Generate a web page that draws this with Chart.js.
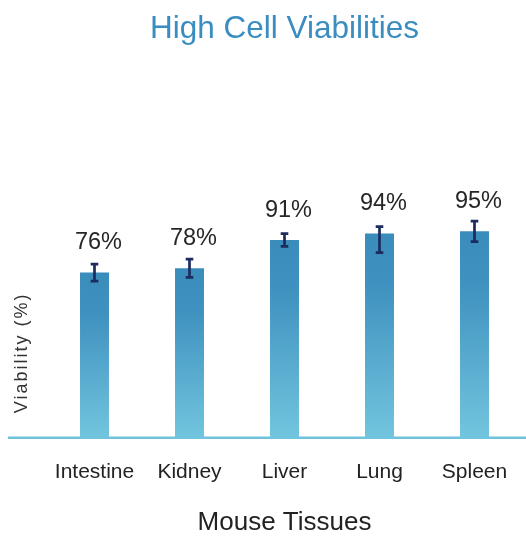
<!DOCTYPE html>
<html>
<head>
<meta charset="utf-8">
<script src="https://cdn.jsdelivr.net/npm/chart.js@4"></script>
<style>
html,body{margin:0;padding:0;background:#fff;}
#wrap{width:526px;height:537px;}
</style>
</head>
<body>
<div id="wrap"><canvas id="c" width="526" height="537"></canvas></div>
<script>
const categories = ['Intestine', 'Kidney', 'Liver', 'Lung', 'Spleen'];
const viability = [76, 78, 91, 94, 95];
const errorPlus = [3.9, 4.2, 2.9, 3.2, 4.7];
const errorMinus = [3.9, 4.2, 2.9, 8.8, 4.7];
const valueLabels = ['76%', '78%', '91%', '94%', '95%'];

const FONT = '"Liberation Sans", Arial, Helvetica, sans-serif';

const extras = {
  id: 'extras',
  beforeDatasetsDraw(chart) {
    const ctx = chart.ctx;
    const y0 = chart.scales.y.getPixelForValue(0);
    ctx.save();
    ctx.strokeStyle = '#70c3dc';
    ctx.lineWidth = 2.6;
    ctx.beginPath();
    ctx.moveTo(8, y0);
    ctx.lineTo(chart.width, y0);
    ctx.stroke();
    // y axis title
    ctx.fillStyle = '#333333';
    ctx.font = '18px ' + FONT;
    ctx.letterSpacing = '2px';
    ctx.textAlign = 'center';
    ctx.textBaseline = 'middle';
    ctx.translate(22, y0 - 85);
    ctx.rotate(-Math.PI / 2);
    ctx.fillText('Viability (%)', 0, 0);
    ctx.restore();
  },
  afterDatasetsDraw(chart) {
    const ctx = chart.ctx;
    const ys = chart.scales.y;
    const meta = chart.getDatasetMeta(0);
    ctx.save();
    meta.data.forEach((bar, i) => {
      const x = bar.x;
      const yt = ys.getPixelForValue(viability[i] + errorPlus[i]);
      const yb = ys.getPixelForValue(viability[i] - errorMinus[i]);
      ctx.strokeStyle = '#1d2b5e';
      ctx.lineWidth = 2.7;
      ctx.beginPath();
      ctx.moveTo(x, yt); ctx.lineTo(x, yb);
      ctx.moveTo(x - 3.8, yt); ctx.lineTo(x + 3.8, yt);
      ctx.moveTo(x - 3.8, yb); ctx.lineTo(x + 3.8, yb);
      ctx.stroke();
      ctx.fillStyle = '#262626';
      ctx.font = '23.5px ' + FONT;
      ctx.textAlign = 'center';
      ctx.textBaseline = 'middle';
      ctx.fillText(valueLabels[i], x + 4, ys.getPixelForValue(viability[i]) - 30);
    });
    ctx.restore();
  }
};

new Chart(document.getElementById('c'), {
  type: 'bar',
  data: {
    labels: categories,
    datasets: [{
      data: viability,
      backgroundColor: (c) => {
        const chart = c.chart;
        const area = chart.chartArea;
        if (!area || c.parsed === undefined) return '#4a9cc6';
        const ys = chart.scales.y;
        const top = ys.getPixelForValue(c.parsed.y);
        const bot = ys.getPixelForValue(0);
        const g = chart.ctx.createLinearGradient(0, top, 0, bot);
        g.addColorStop(0, '#3a8cbb');
        g.addColorStop(0.25, '#3f91bf');
        g.addColorStop(1, '#72c5de');
        return g;
      },
      borderWidth: 0,
      categoryPercentage: 1,
      barPercentage: 0.305
    }]
  },
  options: {
    responsive: false,
    animation: false,
    devicePixelRatio: 1,
    layout: { padding: { left: 47, right: 4, top: 0, bottom: 0 } },
    plugins: {
      legend: { display: false },
      tooltip: { enabled: false },
      title: {
        display: true,
        text: 'High Cell Viabilities',
        color: '#3a8dc0',
        font: { family: FONT, size: 31.5, weight: 'normal' },
        padding: { top: 10, bottom: 14 }
      }
    },
    scales: {
      x: {
        grid: { display: false, drawTicks: true, tickLength: 22 },
        border: { display: false },
        ticks: { color: '#222222', font: { family: FONT, size: 21 }, padding: 0 },
        title: {
          display: true,
          text: 'Mouse Tissues',
          color: '#222222',
          font: { family: FONT, size: 26, lineHeight: 1.0 },
          padding: { top: 24.5, bottom: 1.5 }
        }
      },
      y: {
        display: false,
        min: 0,
        max: 173
      }
    }
  },
  plugins: [extras]
});
</script>
</body>
</html>
